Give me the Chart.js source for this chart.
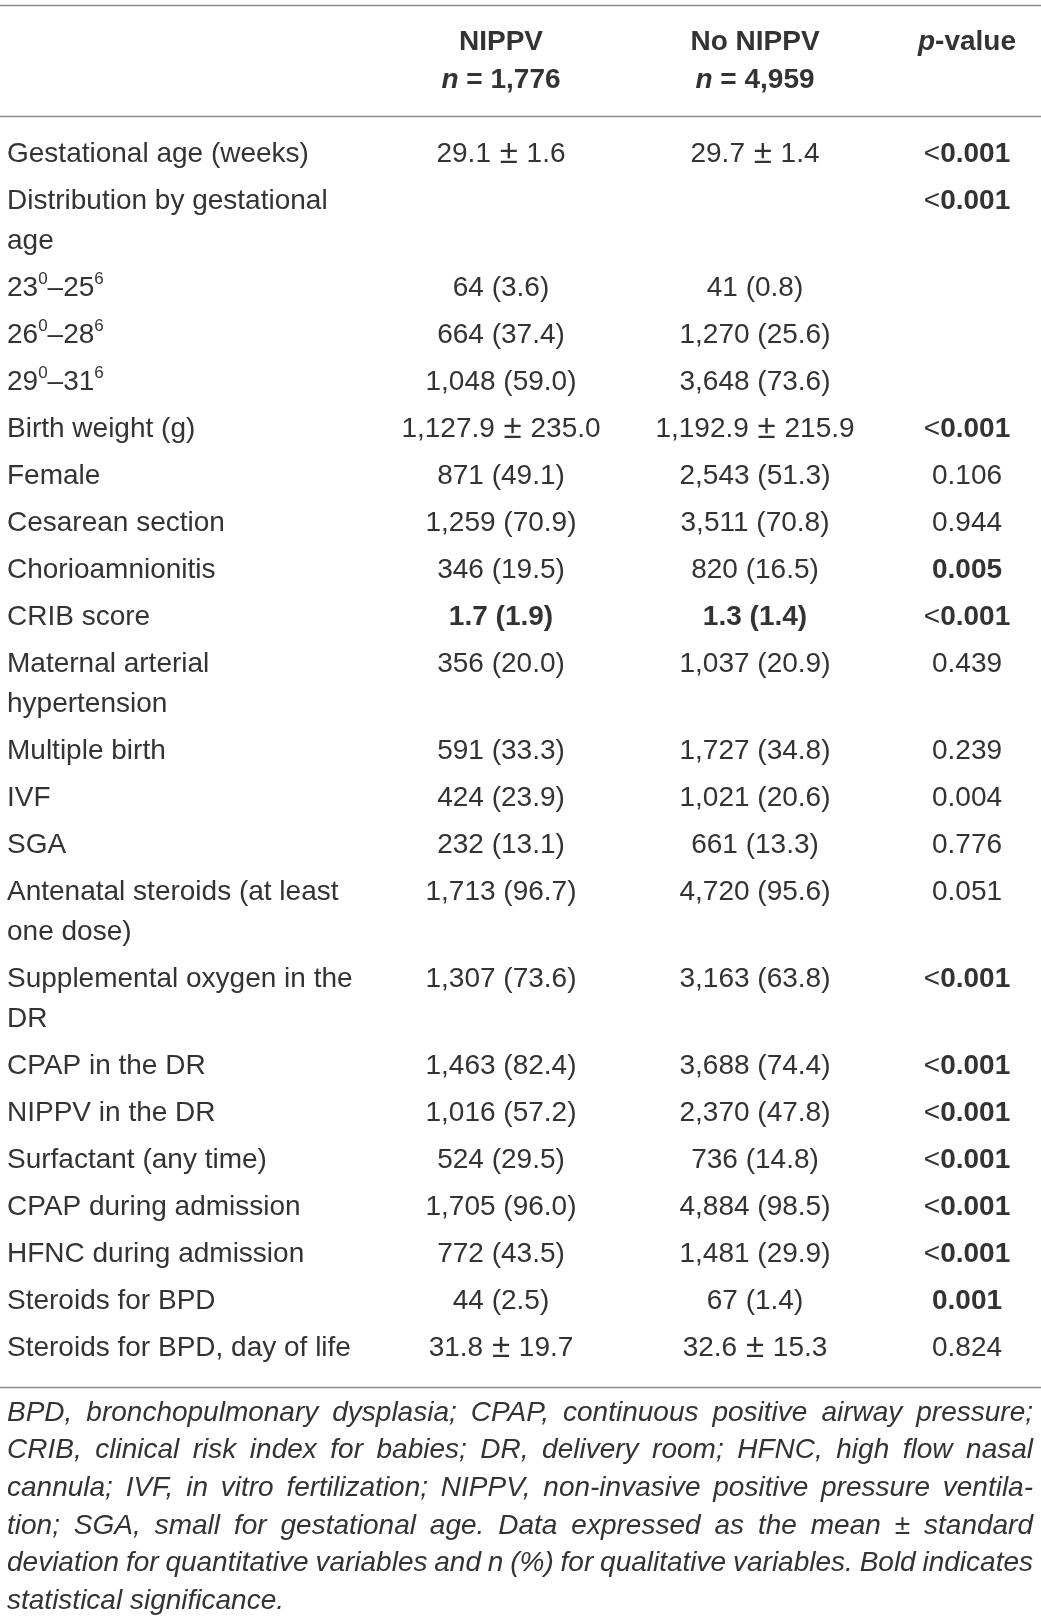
<!DOCTYPE html>
<html>
<head>
<meta charset="utf-8">
<script src="https://cdn.jsdelivr.net/npm/chart.js@4.4.0/dist/chart.umd.min.js"></script>
<style>
  html, body { margin: 0; padding: 0; background: #fff; }
  #wrap { width: 1041px; height: 1622px; position: relative; }
</style>
</head>
<body>
<div id="wrap"><canvas id="table1"></canvas></div>
<script>
// markup: **bold**, _italic_, ^x superscript, \n line break
var headTop = ['', '**NIPPV**', '**No NIPPV**', '**_p_-value**'];
var headSub = ['', '**_n_ = 1,776**', '**_n_ = 4,959**', ''];

var rowLabels = [
  'Gestational age (weeks)',
  'Distribution by gestational\nage',
  '23^0–25^6',
  '26^0–28^6',
  '29^0–31^6',
  'Birth weight (g)',
  'Female',
  'Cesarean section',
  'Chorioamnionitis',
  'CRIB score',
  'Maternal arterial\nhypertension',
  'Multiple birth',
  'IVF',
  'SGA',
  'Antenatal steroids (at least\none dose)',
  'Supplemental oxygen in the\nDR',
  'CPAP in the DR',
  'NIPPV in the DR',
  'Surfactant (any time)',
  'CPAP during admission',
  'HFNC during admission',
  'Steroids for BPD',
  'Steroids for BPD, day of life'
];

var nippv = [
  '29.1 ± 1.6', '', '64 (3.6)', '664 (37.4)', '1,048 (59.0)', '1,127.9 ± 235.0',
  '871 (49.1)', '1,259 (70.9)', '346 (19.5)', '**1.7 (1.9)**', '356 (20.0)',
  '591 (33.3)', '424 (23.9)', '232 (13.1)', '1,713 (96.7)', '1,307 (73.6)',
  '1,463 (82.4)', '1,016 (57.2)', '524 (29.5)', '1,705 (96.0)', '772 (43.5)',
  '44 (2.5)', '31.8 ± 19.7'
];

var noNippv = [
  '29.7 ± 1.4', '', '41 (0.8)', '1,270 (25.6)', '3,648 (73.6)', '1,192.9 ± 215.9',
  '2,543 (51.3)', '3,511 (70.8)', '820 (16.5)', '**1.3 (1.4)**', '1,037 (20.9)',
  '1,727 (34.8)', '1,021 (20.6)', '661 (13.3)', '4,720 (95.6)', '3,163 (63.8)',
  '3,688 (74.4)', '2,370 (47.8)', '736 (14.8)', '4,884 (98.5)', '1,481 (29.9)',
  '67 (1.4)', '32.6 ± 15.3'
];

var pValues = [
  '<**0.001**', '<**0.001**', '', '', '', '<**0.001**',
  '0.106', '0.944', '**0.005**', '<**0.001**', '0.439',
  '0.239', '0.004', '0.776', '0.051', '<**0.001**',
  '<**0.001**', '<**0.001**', '<**0.001**', '<**0.001**', '<**0.001**',
  '**0.001**', '0.824'
];

var footLines = [
  'BPD, bronchopulmonary dysplasia; CPAP, continuous positive airway pressure;',
  'CRIB, clinical risk index for babies; DR, delivery room; HFNC, high flow nasal',
  'cannula; IVF, in vitro fertilization; NIPPV, non-invasive positive pressure ventila-',
  'tion; SGA, small for gestational age. Data expressed as the mean ± standard',
  'deviation for quantitative variables and n (%) for qualitative variables. Bold indicates',
  'statistical significance.'
];

// layout
var FS = 28, SUP = 17, SUP_RAISE = 9, PM_FS = 33, LINE_H = 40, ROW_STEP = 47;
var FIRST_ROW = 154;
var colX = [7, 501, 755, 967];
var colAlign = ['left', 'center', 'center', 'center'];
var headY = [42, 80];
var rules = [5, 116, 1387];
var footTop = 1413, footStep = 37.6, footLeft = 7, footRight = 1033;
var FAMILY = '"Liberation Sans", Arial, Helvetica, sans-serif';
var INK = '#333333';

var rowY = [];
var acc = FIRST_ROW;
rowLabels.forEach(function (l) {
  rowY.push(acc);
  acc += ROW_STEP + (l.split('\n').length - 1) * LINE_H;
});

function parseRuns(str) {
  var runs = [], b = false, it = false, buf = '';
  function push() { if (buf) { runs.push({ t: buf, b: b, i: it }); buf = ''; } }
  for (var k = 0; k < str.length; k++) {
    var ch = str[k];
    if (ch === '*' && str[k + 1] === '*') { push(); b = !b; k++; continue; }
    if (ch === '_') { push(); it = !it; continue; }
    if (ch === '^') { push(); runs.push({ t: str[k + 1], b: b, i: it, sup: true }); k++; continue; }
    if (ch === '±') { push(); runs.push({ t: ch, b: b, i: it, pm: true }); continue; }
    buf += ch;
  }
  push();
  return runs;
}

function fontFor(r) {
  var size = r.sup ? SUP : (r.pm ? PM_FS : FS);
  return (r.i ? 'italic ' : '') + (r.b ? 'bold ' : '') + size + 'px ' + FAMILY;
}

function drawRich(ctx, str, x, y, align) {
  var runs = parseRuns(str), w = 0;
  runs.forEach(function (r) {
    ctx.font = fontFor(r);
    r.w = ctx.measureText(r.t).width + (r.pm ? 2 : 0);
    w += r.w;
  });
  var cx = align === 'center' ? x - w / 2 : x;
  runs.forEach(function (r) {
    ctx.font = fontFor(r);
    ctx.fillText(r.t, cx + (r.pm ? 1 : 0), r.sup ? y - SUP_RAISE : y);
    cx += r.w;
  });
}

function drawJustified(ctx, line, y, last) {
  ctx.font = 'italic ' + FS + 'px ' + FAMILY;
  var words = line.split(' ');
  var widths = words.map(function (w) { return ctx.measureText(w).width; });
  var sum = widths.reduce(function (a, b) { return a + b; }, 0);
  var avail = footRight - footLeft;
  var minGap = FS * 0.2;
  var gap = last ? ctx.measureText(' ').width : (avail - sum) / (words.length - 1);
  var s = 1;
  if (gap < minGap) { s = avail / (sum + minGap * (words.length - 1)); gap = minGap; }
  ctx.save();
  ctx.translate(footLeft, y);
  ctx.scale(s, 1);
  var cx = 0;
  words.forEach(function (w, k) { ctx.fillText(w, cx, 0); cx += widths[k] + gap; });
  ctx.restore();
}

var columns = [rowLabels, nippv, noNippv, pValues];

var tablePlugin = {
  id: 'tableText',
  afterDatasetsDraw: function (chart) {
    var ctx = chart.ctx, ys = chart.scales.y, xs = chart.scales.x;
    ctx.save();
    ctx.fillStyle = INK;
    ctx.textBaseline = 'middle';
    ctx.textAlign = 'left';

    // rules
    ctx.strokeStyle = '#8c8c8c';
    ctx.lineWidth = 1.5;
    rules.forEach(function (v) {
      var py = Math.round(ys.getPixelForValue(v)) + 0.5;
      ctx.beginPath();
      ctx.moveTo(xs.getPixelForValue(xs.min), py);
      ctx.lineTo(xs.getPixelForValue(xs.max), py);
      ctx.stroke();
    });

    // header
    for (var c = 0; c < 4; c++) {
      var hx = xs.getPixelForValue(colX[c]);
      if (headTop[c]) drawRich(ctx, headTop[c], hx, ys.getPixelForValue(headY[0]), colAlign[c]);
      if (headSub[c]) drawRich(ctx, headSub[c], hx, ys.getPixelForValue(headY[1]), colAlign[c]);
    }

    // body cells from dataset elements
    chart.data.datasets.forEach(function (ds, di) {
      var meta = chart.getDatasetMeta(di);
      meta.data.forEach(function (pt, r) {
        var text = columns[di][r];
        if (!text) return;
        text.split('\n').forEach(function (ln, k) {
          var py = ys.getPixelForValue(rowY[r] + k * LINE_H);
          drawRich(ctx, ln, pt.x, py, colAlign[di]);
        });
      });
    });

    // footnote
    footLines.forEach(function (ln, k) {
      drawJustified(ctx, ln, ys.getPixelForValue(footTop + k * footStep), k === footLines.length - 1);
    });
    ctx.restore();
  }
};

new Chart(document.getElementById('table1').getContext('2d'), {
  type: 'scatter',
  data: {
    datasets: columns.map(function (col, c) {
      return {
        label: ['Variable', 'NIPPV', 'No NIPPV', 'p-value'][c],
        data: col.map(function (v, r) { return { x: colX[c], y: rowY[r] }; }),
        pointRadius: 0,
        pointHoverRadius: 0
      };
    })
  },
  options: {
    responsive: true,
    maintainAspectRatio: false,
    animation: false,
    events: [],
    layout: { padding: 0 },
    plugins: { legend: { display: false }, tooltip: { enabled: false } },
    scales: {
      x: { type: 'linear', display: false, min: 0, max: 1041 },
      y: { type: 'linear', display: false, min: 0, max: 1622, reverse: true }
    }
  },
  plugins: [tablePlugin]
});
</script>
</body>
</html>
